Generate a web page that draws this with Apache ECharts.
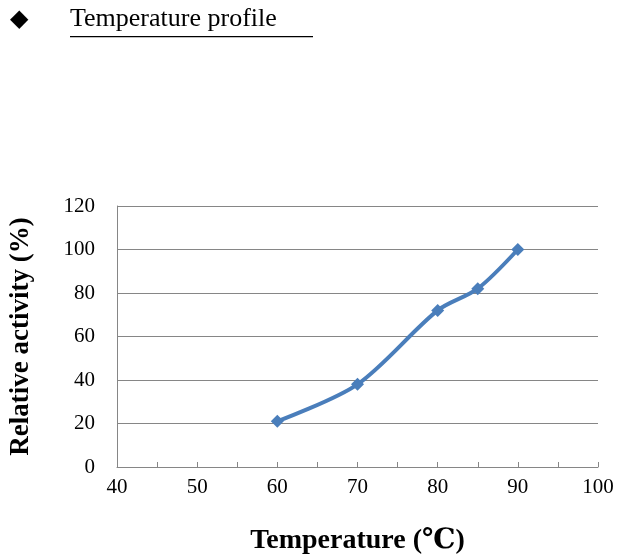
<!DOCTYPE html>
<html>
<head>
<meta charset="UTF-8">
<script src="https://cdn.jsdelivr.net/npm/echarts@6/dist/echarts.min.js"></script>
<style>
  html, body { margin: 0; background: #fff; }
  #chart { width: 628px; height: 558px; }
</style>
</head>
<body>
<div id="chart"></div>
<script>
  var temperature = [60, 70, 80, 85, 90];
  var activity = [21, 38, 72, 82, 100];
  var xTickLabels = [40, 50, 60, 70, 80, 90, 100];

  var serif = '"Liberation Serif", "DejaVu Serif", serif';
  var chart = echarts.init(document.getElementById('chart'));

  var option = {
    animation: false,
    graphic: [
      { type: 'text', left: 10, top: 8, style: { text: '\u25C6', fontSize: 24, fill: '#000', fontFamily: serif } },
      { type: 'text', left: 70, top: 6, style: { text: 'Temperature profile', fontSize: 26, fill: '#000', fontFamily: serif } },
      { type: 'rect', shape: { x: 70, y: 36, width: 243, height: 1.3 }, style: { fill: '#000' } }
    ],
    grid: { left: 107, right: 30, top: 206, bottom: 91 },
    xAxis: {
      type: 'value', min: 40, max: 100, interval: 5,
      name: 'Temperature (\u2103)', nameLocation: 'middle', nameGap: 60,
      nameTextStyle: { fontFamily: serif, fontSize: 28, fontWeight: 'bold', color: '#000' },
      axisLine: { lineStyle: { color: '#868686' } },
      axisTick: { show: true, inside: true, length: 5, lineStyle: { color: '#868686' } },
      axisLabel: {
        fontFamily: serif, fontSize: 21, color: '#000', margin: 10,
        formatter: function (v) { return xTickLabels.indexOf(v) >= 0 ? String(v) : ''; }
      },
      splitLine: { show: false }
    },
    yAxis: {
      type: 'value', min: 0, max: 120, interval: 20,
      name: 'Relative activity (%)', nameLocation: 'middle', nameGap: 82,
      nameTextStyle: { fontFamily: serif, fontSize: 27, fontWeight: 'bold', color: '#000' },
      axisLine: { show: true, lineStyle: { color: '#868686' } },
      axisTick: { show: false },
      axisLabel: { fontFamily: serif, fontSize: 21, color: '#000', margin: 22 },
      splitLine: { lineStyle: { color: '#868686' } }
    },
    series: [{
      type: 'line',
      data: temperature.map(function (t, i) { return [t, activity[i]]; }),
      smooth: 0.3,
      symbol: 'diamond', symbolSize: 13,
      lineStyle: { color: '#4a7ebb', width: 4 },
      itemStyle: { color: '#4a7ebb' }
    }]
  };
  chart.setOption(option);
</script>
</body>
</html>
